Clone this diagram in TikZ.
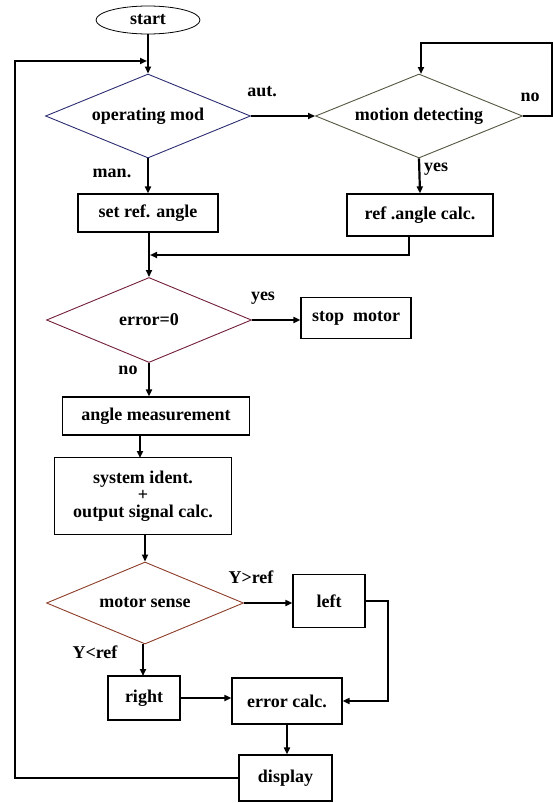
\documentclass[tikz,border=0pt]{standalone}
\usepackage{fontspec}
\setmainfont{Liberation Serif}
\usetikzlibrary{shapes.geometric,arrows.meta}
\definecolor{dA}{RGB}{45,45,115}
\definecolor{dB}{RGB}{85,85,65}
\definecolor{dC}{RGB}{115,30,55}
\definecolor{dD}{RGB}{140,60,40}
\begin{document}
\begin{tikzpicture}[x=1pt,y=-1pt,
  every node/.style={font=\fontsize{18}{20}\selectfont\bfseries},
  box/.style={draw,line width=1.2pt,rectangle,inner sep=0pt,align=center},
  dia/.style={draw,line width=0.9pt,diamond,inner sep=0pt,shape aspect=2.45},
  conn/.style={line width=2.2pt},
  arr/.style={conn,-{Triangle[length=7pt,width=6pt]}},
  lbl/.style={inner sep=0pt}]
\useasboundingbox (0,0) rectangle (553,803);
% nodes
\node[draw,ellipse,line width=0.8pt,minimum width=104pt,minimum height=28pt,inner sep=0pt] (start) at (148,20) {start};
\node[dia,draw=dA,minimum width=205pt,minimum height=84pt] (opmod) at (148,116) {operating mod};
\node[dia,draw=dB,minimum width=207pt,minimum height=84pt] (md) at (419,116) {motion detecting};
\node[box,minimum width=140pt,minimum height=38pt] (setref) at (148,213) {set ref. angle};
\node[box,minimum width=146pt,minimum height=42pt] (refcalc) at (420,215) {ref .angle calc.};
\node[dia,draw=dC,minimum width=205pt,minimum height=85pt] (err0) at (149,320) {error=0};
\node[box,minimum width=110pt,minimum height=41pt] (stop) at (356,318) {stop\ \ motor};
\node[box,minimum width=187pt,minimum height=38pt] (angle) at (156,416) {angle measurement};
\node[box,minimum width=177pt,minimum height=77pt] (sysid) at (143,496) {system ident.\\[-3pt]+\\[-3pt]output signal calc.};
\node[dia,draw=dD,minimum width=197pt,minimum height=82pt] (msense) at (145,603) {motor sense};
\node[box,minimum width=72pt,minimum height=53pt] (left) at (329,601) {left};
\node[box,minimum width=72pt,minimum height=44pt] (right) at (144,698) {right};
\node[box,minimum width=110pt,minimum height=46pt] (errcalc) at (287,701) {error calc.};
\node[box,minimum width=93pt,minimum height=46pt] (display) at (285.5,778) {display};
% helper coordinates
\coordinate (j1) at (147,61);
\coordinate (m1) at (150,255);
% connectors
\draw[arr] (start.south) -- (start.south |- opmod.north);
\draw[arr] (display.west) -| (15,61) -- (j1);
\draw[arr] (opmod.east) -- (md.west);
\draw[arr] (md.east) -- (552,116) |- (421,43) -- (421,74);
\draw[arr] (md.south) -- (refcalc.north);
\draw[arr] (opmod.south) -- (setref.north);
\draw[arr] (149,232) -- (err0.north);
\draw[arr] ([xshift=-11pt]refcalc.south) |- (m1);
\draw[arr] (err0.east) -- (stop.west |- err0.east);
\draw[arr] (err0.south) -- (err0.south |- angle.north);
\draw[arr] (140,435) -- (140,458);
\draw[arr] (msense.north |- sysid.south) -- (msense.north);
\draw[arr] (msense.east) -- (left.west |- msense.east);
\draw[arr] (143,644) -- (143,676);
\draw[arr] (left.east) -- (388,601) |- (errcalc.east);
\draw[arr] (right.east) -- (right.east -| errcalc.west);
\draw[arr] (errcalc.south) -- (errcalc.south |- display.north);
% labels
\node[lbl] (laut) at (262,92) {aut.};
\node[lbl] (lno1) at (530,97) {no};
\node[lbl] (lyes1) at (436,169) {yes};
\node[lbl] (lman) at (112,173) {man.};
\node[lbl] (lyes2) at (263,298) {yes};
\node[lbl] (lno2) at (128,370) {no};
\node[lbl] (lgt) at (251,577) {Y>ref};
\node[lbl] (llt) at (95,652) {Y<ref};
\end{tikzpicture}
\end{document}
